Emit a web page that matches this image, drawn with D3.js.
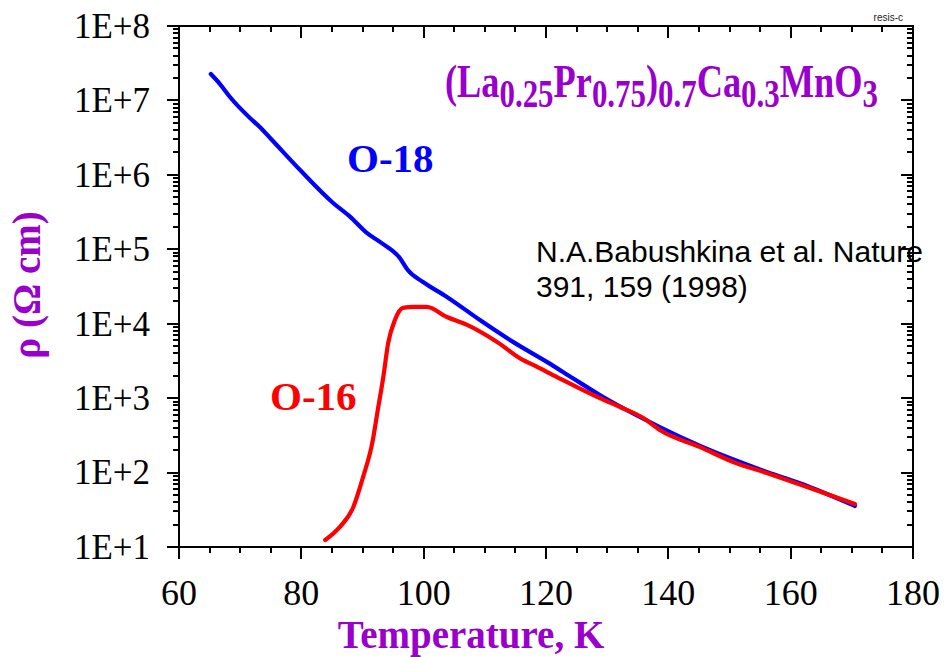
<!DOCTYPE html>
<html>
<head>
<meta charset="utf-8">
<script src="https://cdn.jsdelivr.net/npm/d3@7"></script>
<style>
  body { margin: 0; background: #fff; }
  svg { display: block; }
</style>
</head>
<body>
<svg id="chart" width="951" height="657"></svg>
<script>
const purple = "#9900cc"
const serif = "'Liberation Serif', 'Times New Roman', serif"

// O-18 sample (blue)
const o18T   = [65.2, 66.7, 68.3, 71.6, 73.2, 74.9, 79.8, 85.2, 88.0, 90.7, 92.9, 96.1, 97.4, 99.9, 103.8, 109.2, 114.6, 120.2, 124.4, 128.8, 138.6, 145.2, 156.1, 162.7, 170.5]
const o18Rho = [2.26e7, 1.66e7, 1.12e7, 5.81e6, 4.40e6, 3.13e6, 1.16e6, 4.19e5, 2.72e5, 1.66e5, 1.25e5, 7.64e4, 5.27e4, 3.63e4, 2.29e4, 1.12e4, 5.7e3, 3.05e3, 1.85e3, 1.10e3, 409, 228, 102, 66, 35.6]

// O-16 sample (red)
const o16T   = [83.9, 86.3, 88.5, 90.1, 91.6, 92.5, 93.4, 94.2, 95.3, 96.6, 98.3, 100.5, 103.8, 107.1, 112.0, 116.2, 117.9, 121.8, 128.8, 132.1, 135.9, 138.6, 145.2, 150.6, 156.1, 162.7, 170.5]
const o16Rho = [12.4, 18.6, 34.4, 87.3, 250, 693, 1.92e3, 5.51e3, 1.12e4, 1.63e4, 1.68e4, 1.68e4, 1.23e4, 9.62e3, 5.68e3, 3.26e3, 2.79e3, 1.92e3, 1.00e3, 760, 541, 373, 220, 139, 98.6, 64, 37.8]

const xMajor = [60, 80, 100, 120, 140, 160, 180]
const xMinor = d3.range(60, 181, 5)
const yMajor = [1e1, 1e2, 1e3, 1e4, 1e5, 1e6, 1e7, 1e8]
const yMinor = d3.range(1, 8).flatMap(e => d3.range(2, 10).map(m => m * Math.pow(10, e)))

const plotL = 179, plotR = 913, plotT = 26, plotB = 547

var svg = d3.select("#chart")

var x = d3.scaleLinear().domain([60, 180]).range([plotL, plotR])
var y = d3.scaleLog().domain([10, 1e8]).range([plotB, plotT])

// tick marks: len > 0 goes down / right, len < 0 up / left
function xTicks(vals, y0, len) {
  svg.append("g").selectAll("rect").data(vals).join("rect")
    .attr("x", d => Math.round(x(d)) - 1).attr("width", 2)
    .attr("y", Math.min(y0, y0 + len)).attr("height", Math.abs(len))
    .attr("fill", "#000")
}
function yTicks(vals, x0, len) {
  svg.append("g").selectAll("rect").data(vals).join("rect")
    .attr("y", d => Math.round(y(d)) - 1).attr("height", 2)
    .attr("x", Math.min(x0, x0 + len)).attr("width", Math.abs(len))
    .attr("fill", "#000")
}

xTicks(xMinor, plotB, 6)
xTicks(xMajor, plotB, 12)
xTicks(xMinor, plotT, 6)
xTicks(xMajor, plotT, 12)
yTicks(yMinor, plotL, -6)
yTicks(yMajor, plotL, -12)
yTicks(yMinor, plotR, -6)
yTicks(yMajor, plotR, -12)

// tick labels
svg.append("g").selectAll("text").data(xMajor).join("text")
  .attr("x", d => x(d)).attr("y", 605)
  .attr("text-anchor", "middle")
  .attr("font-family", serif).attr("font-size", 36)
  .text(d => d)

svg.append("g").selectAll("text").data(yMajor).join("text")
  .attr("x", 150).attr("y", d => y(d))
  .attr("dy", "0.34em")
  .attr("text-anchor", "end")
  .attr("font-family", serif).attr("font-size", 35)
  .text(d => "1E+" + Math.round(Math.log10(d)))

// frame
svg.append("rect")
  .attr("x", plotL).attr("y", plotT)
  .attr("width", plotR - plotL).attr("height", plotB - plotT)
  .attr("fill", "none").attr("stroke", "#000").attr("stroke-width", 2)

var line = d3.line()
  .x(d => x(d[0]))
  .y(d => y(d[1]))
  .curve(d3.curveMonotoneX)

svg.append("path")
  .datum(d3.zip(o18T, o18Rho))
  .attr("d", line)
  .attr("fill", "none").attr("stroke", "#0000ff").attr("stroke-width", 4.2)
  .attr("stroke-linejoin", "round").attr("stroke-linecap", "round")

svg.append("path")
  .datum(d3.zip(o16T, o16Rho))
  .attr("d", line)
  .attr("fill", "none").attr("stroke", "#ff0000").attr("stroke-width", 4.2)
  .attr("stroke-linejoin", "round").attr("stroke-linecap", "round")

// labels
svg.append("text")
  .attr("x", 471).attr("y", 648)
  .attr("text-anchor", "middle")
  .attr("font-family", serif).attr("font-weight", "bold").attr("font-size", 39)
  .attr("fill", purple)
  .text("Temperature, K")

svg.append("text")
  .attr("transform", "translate(40,285) rotate(-90)")
  .attr("text-anchor", "middle")
  .attr("font-family", serif).attr("font-weight", "bold").attr("font-size", 39)
  .attr("fill", purple)
  .text("ρ (Ω cm)")

svg.append("text")
  .attr("x", 347).attr("y", 172)
  .attr("font-family", serif).attr("font-weight", "bold").attr("font-size", 41)
  .attr("fill", "#0000ff")
  .text("O-18")

svg.append("text")
  .attr("x", 270).attr("y", 410)
  .attr("font-family", serif).attr("font-weight", "bold").attr("font-size", 41)
  .attr("fill", "#ff0000")
  .text("O-16")

var cite = svg.append("text")
  .attr("font-family", "'Liberation Sans', Arial, sans-serif").attr("font-size", 30)
  .attr("fill", "#000")
cite.append("tspan").attr("x", 536).attr("y", 262).text("N.A.Babushkina et al. Nature")
cite.append("tspan").attr("x", 536).attr("y", 297).text("391, 159 (1998)")

svg.append("text")
  .attr("x", 903).attr("y", 21)
  .attr("text-anchor", "end")
  .attr("font-family", "'Liberation Sans', Arial, sans-serif").attr("font-size", 10)
  .attr("fill", "#222")
  .text("resis-c")

// formula, squeezed horizontally to the original width
const formula = [["(La", 0], ["0.25", 1], ["Pr", 0], ["0.75", 1], [")", 0], ["0.7", 1], ["Ca", 0], ["0.3", 1], ["MnO", 0], ["3", 1]]
var fg = svg.append("g")
var ft = fg.append("text")
  .attr("font-family", serif).attr("font-weight", "bold")
  .attr("fill", purple)
var prev = 0
formula.forEach(([s, sub]) => {
  ft.append("tspan")
    .attr("font-size", sub ? 40 : 47)
    .attr("dy", (sub - prev) * 10)
    .text(s)
  prev = sub
})
var fw = ft.node().getComputedTextLength()
fg.attr("transform", `translate(445,97) scale(${433 / fw},1)`)
</script>
</body>
</html>
